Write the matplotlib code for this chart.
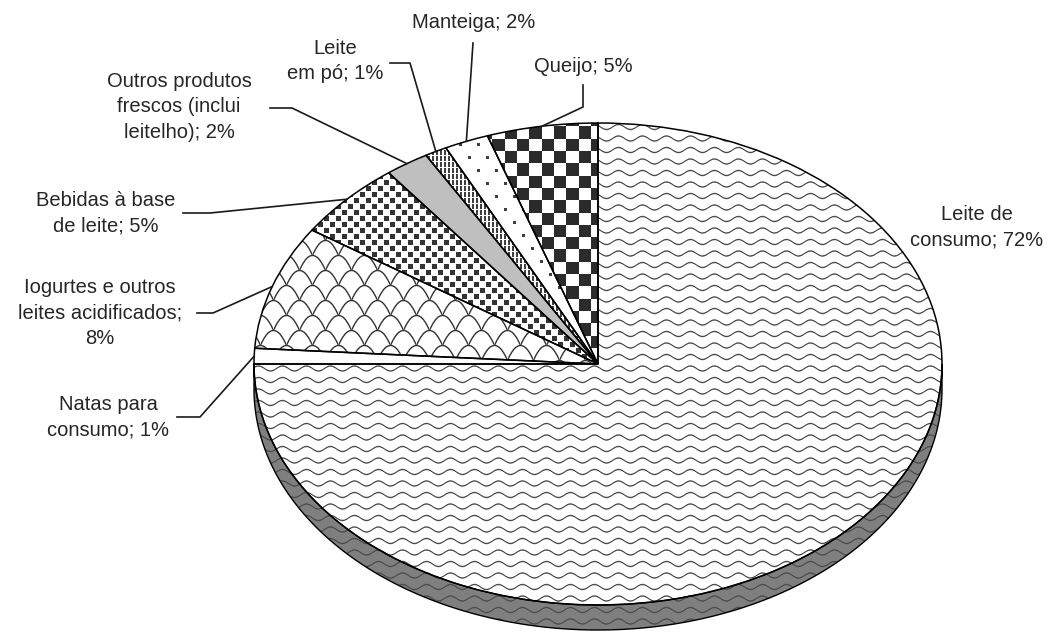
"""Pie chart: destino do leite recolhido (tilted pie with B/W textures)."""

import numpy as np
import matplotlib

matplotlib.use("Agg")
import matplotlib.pyplot as plt
from matplotlib.patches import Polygon

# canvas and pie geometry (pixels)
W, H = 1053, 633
CX, CY = 598.0, 364.0
RX, RY = 344.0, 241.0
DEPTH = 25.0

# data, in pie order (clockwise from 12 o'clock)
categories = [
    "Leite de\nconsumo",
    "Natas para\nconsumo",
    "Iogurtes e outros\nleites acidificados",
    "Bebidas à base\nde leite",
    "Outros produtos\nfrescos (inclui\nleitelho)",
    "Leite\nem pó",
    "Manteiga",
    "Queijo",
]
shares = [72, 1, 8, 5, 2, 1, 2, 5]
separators = [" ", " ", "\n", " ", " ", " ", " ", " "]
textures = ["wave", "white", "scales", "squares", "gray", "bars", "dots", "checks"]

# label layout: text centre, leader start, leader elbow (pixels)
label_pos = [(977, 227), (108, 417), (100, 313), (106, 213),
             (179, 107), (335, 61), (474, 23), (583, 67)]
leader_start = [None, (177, 417), (197, 313), (183, 213),
                (270, 108), (390, 63), (473, 43), (583, 85)]
leader_elbow = [None, (200, 417), (213, 313), (210, 213),
                (292, 108), (410, 63), (473, 43), (583, 107)]


def to_data(px, py):
    return (px - CX) / RX, (CY - py) / RY


Y, X = np.mgrid[0:H, 0:W].astype(float)


def line_ink(dist, half=0.9):
    return np.clip(half + 0.5 - dist, 0.0, 1.0)


def wave_ink():
    f = np.mod(Y - 2.5 * np.sin(2 * np.pi * X / 24.0), 11.5)
    d = np.minimum(f, 11.5 - f)
    return line_ink(d, 0.7)


def scales_ink():
    cw, ch = 26.0, 15.0
    row = np.floor(Y / ch)
    off = np.mod(row, 2) * cw / 2
    u = np.mod(X + off, cw) - cw / 2
    v = np.mod(Y, ch)
    c = ch * (u / (cw / 2)) ** 2
    slope = 2 * ch * u / (cw / 2) ** 2
    d = np.abs(v - c) / np.sqrt(1 + slope ** 2)
    return line_ink(d, 0.7)


def squares_ink():
    row = np.floor(Y / 6.0)
    off = np.mod(row, 2) * 6.0
    u = np.mod(X + off, 12.0)
    v = np.mod(Y, 6.0)
    return ((u < 5) & (v < 5)).astype(float)


def bars_ink():
    return ((np.mod(X, 4.0) < 1.6) & (np.mod(Y, 6.0) < 4.5)).astype(float)


def dots_ink():
    row = np.floor(Y / 13.0)
    off = np.mod(row, 2) * 9.0
    u = np.mod(X + off, 18.0)
    v = np.mod(Y, 13.0)
    return ((u < 2.5) & (v < 2.5)).astype(float)


def checks_ink():
    return np.mod(np.floor(X / 12.3) + np.floor((Y - 3) / 12.3), 2)


def texture(kind, bg=(1.0, 1.0, 1.0)):
    inks = {
        "wave": (wave_ink, 0.3),
        "scales": (scales_ink, 0.2),
        "squares": (squares_ink, 0.2),
        "bars": (bars_ink, 0.25),
        "dots": (dots_ink, 0.25),
        "checks": (checks_ink, 0.17),
    }
    img = np.ones((H, W, 3))
    if kind == "gray":
        img[:] = 0.75
        return img
    img[:] = bg
    if kind == "white":
        return img
    fn, dark = inks[kind]
    m = fn()[..., None]
    return img * (1 - m) + dark * m


fig = plt.figure(figsize=(W / 100, H / 100), dpi=100)
ax = fig.add_axes([0, 0, 1, 1])
x0, y0 = to_data(0, H)
x1, y1 = to_data(W, 0)
extent = (x0, x1, y0, y1)

wedges, _ = ax.pie(
    shares,
    startangle=90,
    counterclock=False,
    radius=1.0,
    center=(0, 0),
    wedgeprops=dict(facecolor="none", edgecolor="black", linewidth=1.1, zorder=4),
)

# 3-D rim along the front half
t = np.linspace(np.pi, 2 * np.pi, 300)
top = np.column_stack([np.cos(t), np.sin(t)])
bot = np.column_stack([np.cos(t), np.sin(t) - DEPTH / RY])[::-1]
rim = Polygon(np.vstack([top, bot]), closed=True, facecolor="none",
              edgecolor="black", linewidth=1.0, zorder=5)
ax.add_patch(rim)
rim_img = ax.imshow(texture("wave", bg=(0.5, 0.5, 0.5)), extent=extent,
                    origin="upper", interpolation="nearest", aspect="auto", zorder=2)
rim_img.set_clip_path(rim)

for w, kind in zip(wedges, textures):
    im = ax.imshow(texture(kind), extent=extent, origin="upper",
                   interpolation="nearest", aspect="auto", zorder=3)
    im.set_clip_path(w)

text_kw = dict(ha="center", va="center", multialignment="center", fontsize=14.5,
               family="Liberation Sans", linespacing=1.45, color="#262626", zorder=7)

for i, w in enumerate(wedges):
    label = f"{categories[i]};{separators[i]}{shares[i]}%"
    ax.text(*to_data(*label_pos[i]), label, **text_kw)
    if leader_start[i] is None:
        continue
    mid = np.deg2rad((w.theta1 + w.theta2) / 2)
    sx, sy = to_data(*leader_start[i])
    ex, ey = to_data(*leader_elbow[i])
    ax.plot([sx, ex, np.cos(mid)], [sy, ey, np.sin(mid)],
            color="#1a1a1a", linewidth=1.2, zorder=6)

ax.set_aspect("auto")
ax.set_xlim(x0, x1)
ax.set_ylim(y0, y1)
ax.axis("off")

fig.savefig("out.png", dpi=100, facecolor="white")
